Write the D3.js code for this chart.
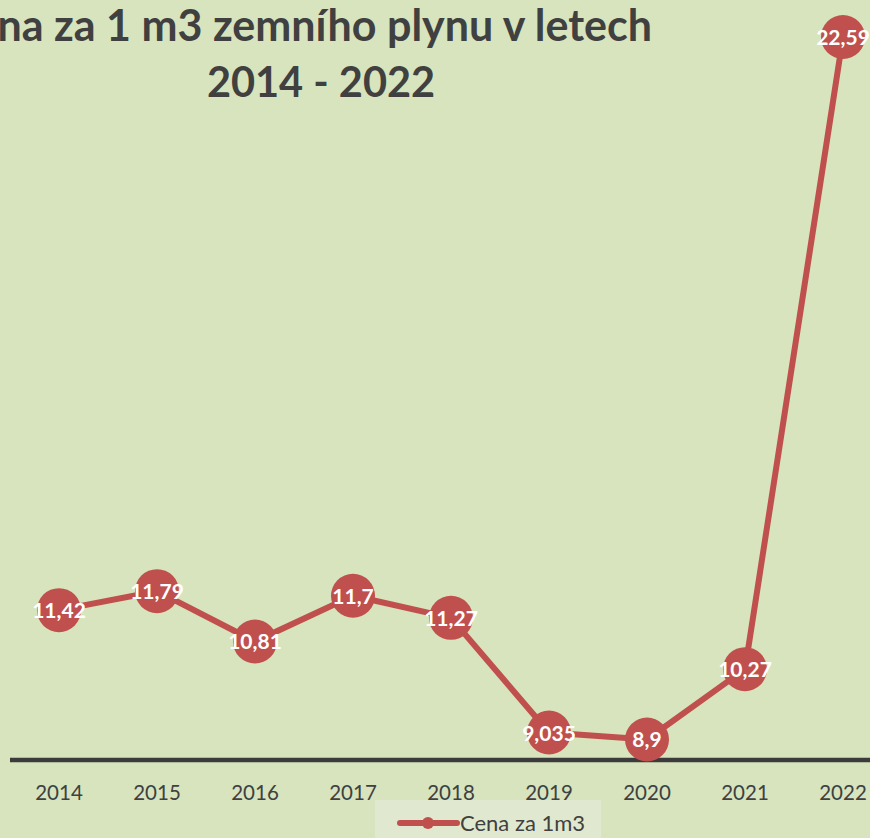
<!DOCTYPE html>
<meta charset="utf-8">
<style>
    body { margin: 0; background: #d7e4bd; overflow: hidden; }
    .title { font-family: Lato, "Open Sans", sans-serif; font-weight: bold; fill: #404040; }
    .tick-label { font-family: Lato, "Open Sans", sans-serif; font-size: 20.5px; fill: #404040; }
    .data-label { font-family: Lato, "Open Sans", sans-serif; font-weight: bold; font-size: 21px; fill: #fff; }
</style>
<body>
<svg width="870" height="838"></svg>
</body>
<script src="https://d3js.org/d3.v7.min.js"></script>
<script>
    var years = ["2014", "2015", "2016", "2017", "2018", "2019", "2020", "2021", "2022"];
    var prices = [11.42, 11.79, 10.81, 11.7, 11.27, 9.035, 8.9, 10.27, 22.59];
    var priceLabels = ["11,42", "11,79", "10,81", "11,7", "11,27", "9,035", "8,9", "10,27", "22,59"];
    var seriesName = "Cena za 1m3";

    var svg = d3.select("svg");
    var red = "#c0504d";

    svg.append("rect").attr("width", 870).attr("height", 838).attr("fill", "#d7e4bd");

    var x = d3.scaleBand().domain(years).range([10, 892]);
    var y = d3.scaleLinear().domain([8.5, 22.59]).range([760, 37]);
    var cx = function (d) { return x(d) + x.bandwidth() / 2; };

    // title (left part runs off the canvas, as in the original)
    svg.append("text").attr("class", "title")
        .attr("x", 652).attr("y", 41)
        .attr("text-anchor", "end")
        .style("font-size", "43px")
        .text("Cena za 1 m3 zemního plynu v letech");
    svg.append("text").attr("class", "title")
        .attr("x", 321).attr("y", 97)
        .attr("text-anchor", "middle")
        .style("font-size", "41.5px")
        .text("2014 - 2022");

    // axis line
    svg.append("line")
        .attr("x1", 10).attr("x2", 892)
        .attr("y1", y(8.5)).attr("y2", y(8.5))
        .attr("stroke", "#3b3b3b").attr("stroke-width", 4.5);

    svg.selectAll(".tick-label")
        .data(years)
        .enter().append("text")
        .attr("class", "tick-label")
        .attr("x", cx)
        .attr("y", 800)
        .attr("text-anchor", "middle")
        .text(function (d) { return d; });

    // series
    var line = d3.line()
        .x(function (d, i) { return cx(years[i]); })
        .y(function (d) { return y(d); });

    svg.append("path")
        .datum(prices)
        .attr("d", line)
        .attr("fill", "none")
        .attr("stroke", red)
        .attr("stroke-width", 6)
        .attr("stroke-linejoin", "round");

    svg.selectAll(".marker")
        .data(prices)
        .enter().append("circle")
        .attr("class", "marker")
        .attr("cx", function (d, i) { return cx(years[i]); })
        .attr("cy", function (d) { return y(d); })
        .attr("r", 22)
        .attr("fill", red);

    svg.selectAll(".data-label")
        .data(prices)
        .enter().append("text")
        .attr("class", "data-label")
        .attr("x", function (d, i) { return cx(years[i]); })
        .attr("y", function (d) { return y(d) + 8; })
        .attr("text-anchor", "middle")
        .text(function (d, i) { return priceLabels[i]; });

    // legend
    var legend = svg.append("g");
    legend.append("rect")
        .attr("x", 375).attr("y", 800).attr("width", 226).attr("height", 40)
        .attr("fill", "#e0e9cf");
    legend.append("line")
        .attr("x1", 400).attr("x2", 457).attr("y1", 823).attr("y2", 823)
        .attr("stroke", red).attr("stroke-width", 6).attr("stroke-linecap", "round");
    legend.append("circle")
        .attr("cx", 428).attr("cy", 823).attr("r", 6).attr("fill", red);
    legend.append("text")
        .attr("class", "tick-label")
        .attr("x", 460).attr("y", 831)
        .style("font-size", "22px")
        .text(seriesName);
</script>
